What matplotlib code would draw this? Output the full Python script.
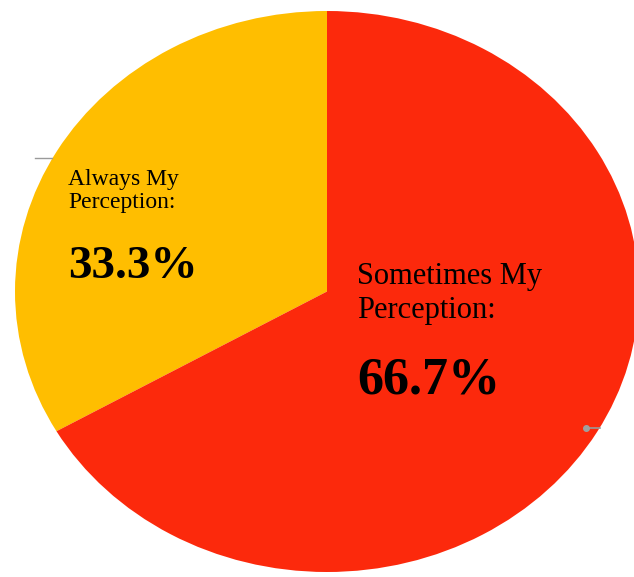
import matplotlib.pyplot as plt

labels = ["Always My\nPerception:", "Sometimes My\nPerception:"]
shares = [33.3, 66.7]
colors = ["#FFBE00", "#FC290C"]

W, H = 634, 577
fig = plt.figure(figsize=(W / 100, H / 100), dpi=100)
ax = fig.add_axes([0, 0, 1, 1])

ax.pie(shares, colors=colors, startangle=90, counterclock=True,
       wedgeprops=dict(linewidth=0))

# stretch the pie into the slightly wide oval, centre at (327, 291) px
cx, cy, rx, ry = 327, 291.5, 312, 280.5
ax.set_aspect("auto")
ax.set_xlim(-cx / rx, (W - cx) / rx)
ax.set_ylim(-(H - cy) / ry, cy / ry)
ax.axis("off")


def px(x, y):
    return x / W, 1 - y / H


serif = "Liberation Serif"

# left label
fig.text(*px(68, 169), labels[0], family=serif, fontsize=17,
         va="top", ha="left", linespacing=1.15)
fig.text(*px(68, 278), f"{shares[0]:.1f}%", family=serif, fontsize=34,
         fontweight="bold", va="baseline", ha="left")

# right label
fig.text(*px(357, 262), labels[1], family=serif, fontsize=22,
         va="top", ha="left", linespacing=1.22)
fig.text(*px(357, 394), f"{shares[1]:.1f}%", family=serif, fontsize=37.5,
         fontweight="bold", va="baseline", ha="left")

# leftover leader-line stubs
fig.add_artist(plt.Line2D([35 / W, 52 / W], [1 - 158 / H] * 2,
                          color="#9a9a9a", lw=1))
fig.add_artist(plt.Line2D([586 / W, 600 / W], [1 - 428 / H] * 2,
                          color="#9a9a9a", lw=1.2))
fig.add_artist(plt.Line2D([586 / W], [1 - 428 / H], marker="o",
                          markersize=4, color="#a0a0a0"))

fig.savefig("out.png", dpi=100)
